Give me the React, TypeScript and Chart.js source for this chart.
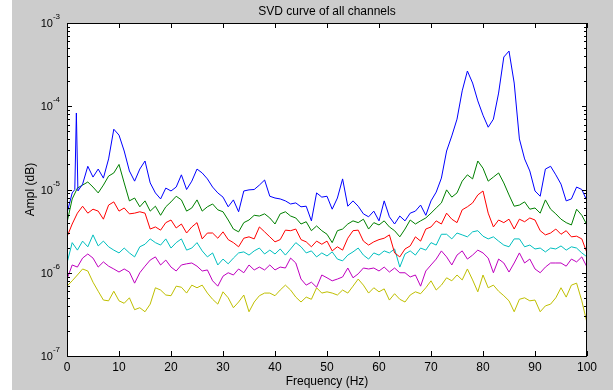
import { useEffect, useRef } from "react";
import { Chart, registerables } from "chart.js";

Chart.register(...registerables);

// Frequency grid (Hz), 1 Hz spacing
const FREQ: number[] = Array.from({ length: 101 }, (_, i) => i);

// The first channel resolves the narrow line near 1.8 Hz with extra samples
const BLUE_FREQ: number[] = [0, 1, 1.5, 1.8, 2.1, ...FREQ.slice(3)];

const BLUE: number[] = [
  5.2e-6, 9.1e-6, 1.0e-5, 8.3e-5, 9.6e-6,
  1.16e-5, 1.9e-5, 1.41e-5, 1.76e-5, 1.37e-5, 2.33e-5, 5.3e-5, 4.5e-5, 2.9e-5, 1.67e-5,
  1.26e-5, 1.76e-5, 2.2e-5, 1.2e-5, 9.1e-6, 7.7e-6, 1.04e-5, 9.6e-6, 1.07e-5, 1.5e-5,
  1.0e-5, 1.26e-5, 1.76e-5, 1.58e-5, 1.34e-5, 1.07e-5, 9.1e-6, 8.1e-6, 6.2e-6, 7.5e-6,
  5.4e-6, 9.6e-6, 9.9e-6, 1.0e-5, 1.13e-5, 1.3e-5, 8.3e-6, 7.9e-6, 7.7e-6, 7.3e-6,
  6.7e-6, 6.9e-6, 6.2e-6, 6.3e-6, 4.2e-6, 9.1e-6, 8.1e-6, 8.3e-6, 5.8e-6, 7.9e-6,
  1.34e-5, 6.3e-6, 7.3e-6, 6.3e-6, 5.1e-6, 4.7e-6, 5.5e-6, 4.2e-6, 7.3e-6, 4.7e-6,
  3.85e-6, 4.8e-6, 4.2e-6, 5.2e-6, 5.5e-6, 6.5e-6, 4.9e-6, 7.3e-6, 9.3e-6, 1.37e-5,
  2.9e-5, 4.4e-5, 7.0e-5, 1.53e-4, 2.65e-4, 1.9e-4, 1.16e-4, 7.8e-5, 5.6e-5, 7.0e-5,
  1.44e-4, 3.9e-4, 4.6e-4, 1.9e-4, 4.05e-5, 2.33e-5, 1.67e-5, 9.6e-6, 8.3e-6, 1.76e-5,
  1.9e-5, 1.5e-5, 1.16e-5, 7.3e-6, 7.7e-6, 1.07e-5, 1.0e-5, 7.3e-6,
];

const GREEN: number[] = [
  4.0e-6, 7.7e-6, 1.04e-5, 1.13e-5, 1.23e-5, 1.07e-5, 9.1e-6, 1.13e-5, 1.45e-5, 1.58e-5,
  2.0e-5, 1.2e-5, 7.3e-6, 7.9e-6, 6.2e-6, 7.3e-6, 5.5e-6, 6.3e-6, 4.9e-6, 6.2e-6,
  7.1e-6, 8.3e-6, 7.5e-6, 5.5e-6, 6.0e-6, 7.5e-6, 5.5e-6, 6.2e-6, 6.7e-6, 5.7e-6,
  5.4e-6, 4.3e-6, 3.35e-6, 3.1e-6, 4.0e-6, 4.3e-6, 4.9e-6, 4.8e-6, 5.1e-6, 4.55e-6,
  3.85e-6, 5.1e-6, 5.4e-6, 4.8e-6, 4.55e-6, 3.85e-6, 4.1e-6, 3.2e-6, 3.65e-6, 3.2e-6,
  2.9e-6, 2.3e-6, 3.2e-6, 3.35e-6, 3.85e-6, 4.2e-6, 4.0e-6, 4.4e-6, 3.35e-6, 4.0e-6,
  3.75e-6, 4.2e-6, 3.55e-6, 3.2e-6, 2.7e-6, 3.35e-6, 4.3e-6, 3.85e-6, 4.2e-6, 4.55e-6,
  5.2e-6, 6.0e-6, 6.9e-6, 9.9e-6, 8.1e-6, 9.1e-6, 1.26e-5, 1.5e-5, 1.34e-5, 2.2e-5,
  1.8e-5, 1.26e-5, 1.41e-5, 1.58e-5, 1.2e-5, 8.6e-6, 6.3e-6, 6.5e-6, 7.1e-6, 5.8e-6,
  6.0e-6, 5.2e-6, 7.5e-6, 5.8e-6, 5.1e-6, 4.4e-6, 4.0e-6, 3.75e-6, 5.8e-6, 4.9e-6,
  3.75e-6,
];

const RED: number[] = [
  2.7e-6, 3.85e-6, 5.2e-6, 6.3e-6, 5.2e-6, 5.8e-6, 5.5e-6, 4.4e-6, 6.5e-6, 7.1e-6,
  5.5e-6, 6.0e-6, 5.1e-6, 5.2e-6, 5.4e-6, 5.2e-6, 3.35e-6, 3.55e-6, 3.25e-6, 4.0e-6,
  4.3e-6, 3.45e-6, 3.85e-6, 3.0e-6, 3.55e-6, 4.0e-6, 2.55e-6, 3.0e-6, 3.0e-6, 2.6e-6,
  3.1e-6, 2.5e-6, 2.3e-6, 2.05e-6, 2.6e-6, 2.7e-6, 2.55e-6, 3.55e-6, 3.1e-6, 2.7e-6,
  2.35e-6, 2.5e-6, 3.25e-6, 3.2e-6, 3.35e-6, 2.5e-6, 2.35e-6, 2.05e-6, 2.4e-6, 2.2e-6,
  2.4e-6, 1.83e-6, 2.05e-6, 1.87e-6, 2.6e-6, 3.2e-6, 3.25e-6, 2.4e-6, 2.15e-6, 2.35e-6,
  2.5e-6, 2.6e-6, 2.85e-6, 1.73e-6, 1.55e-6, 1.93e-6, 2.1e-6, 2.7e-6, 2.4e-6, 3.35e-6,
  3.55e-6, 4.2e-6, 3.85e-6, 5.2e-6, 4.4e-6, 4.0e-6, 5.7e-6, 6.2e-6, 6.9e-6, 8.6e-6,
  9.6e-6, 5.2e-6, 3.55e-6, 4.3e-6, 4.0e-6, 4.4e-6, 3.35e-6, 4.4e-6, 4.1e-6, 4.55e-6,
  4.3e-6, 3.2e-6, 2.85e-6, 3.0e-6, 3.35e-6, 2.9e-6, 3.2e-6, 2.7e-6, 2.75e-6, 2.55e-6,
  1.73e-6,
];

const CYAN: number[] = [
  1.31e-6, 2.3e-6, 1.87e-6, 2.4e-6, 2.05e-6, 2.85e-6, 2.1e-6, 2.4e-6, 2.05e-6, 1.87e-6,
  1.73e-6, 1.98e-6, 1.73e-6, 1.55e-6, 2.05e-6, 2.2e-6, 2.55e-6, 2.3e-6, 2.15e-6, 2.55e-6,
  1.98e-6, 2.3e-6, 2.55e-6, 1.87e-6, 1.98e-6, 2.3e-6, 1.83e-6, 1.55e-6, 1.73e-6, 1.24e-6,
  1.46e-6, 1.28e-6, 1.5e-6, 1.73e-6, 1.78e-6, 1.63e-6, 1.83e-6, 1.98e-6, 1.68e-6, 1.87e-6,
  1.68e-6, 1.93e-6, 1.63e-6, 1.93e-6, 2.3e-6, 2.05e-6, 1.73e-6, 1.83e-6, 1.55e-6, 1.73e-6,
  1.59e-6, 1.78e-6, 1.46e-6, 1.39e-6, 1.63e-6, 1.78e-6, 1.98e-6, 1.63e-6, 1.46e-6, 1.73e-6,
  1.63e-6, 1.83e-6, 1.73e-6, 1.93e-6, 1.17e-6, 1.68e-6, 1.83e-6, 1.63e-6, 1.98e-6, 1.87e-6,
  2.3e-6, 2.15e-6, 2.9e-6, 2.9e-6, 2.55e-6, 3.0e-6, 2.85e-6, 2.7e-6, 3.1e-6, 3.2e-6,
  2.75e-6, 2.55e-6, 2.7e-6, 2.4e-6, 2.15e-6, 2.05e-6, 2.55e-6, 2.55e-6, 2.05e-6, 2.15e-6,
  1.93e-6, 1.98e-6, 1.78e-6, 1.98e-6, 1.93e-6, 2.1e-6, 1.87e-6, 2.05e-6, 1.98e-6, 1.73e-6,
  1.55e-6,
];

const MAGENTA: number[] = [
  8.4e-7, 1.24e-6, 1.17e-6, 1.5e-6, 1.68e-6, 1.5e-6, 1.17e-6, 1.35e-6, 1.2e-6, 1.11e-6,
  1.02e-6, 1.11e-6, 1.02e-6, 7.5e-7, 1.0e-6, 1.2e-6, 1.42e-6, 1.55e-6, 1.24e-6, 1.42e-6,
  1.17e-6, 1.05e-6, 1.24e-6, 1.28e-6, 1.31e-6, 1.2e-6, 1.05e-6, 1.08e-6, 8.0e-7, 6.9e-7,
  9.1e-7, 1.0e-6, 9.4e-7, 1.11e-6, 1.0e-6, 1.24e-6, 1.08e-6, 1.17e-6, 1.08e-6, 1.24e-6,
  1.08e-6, 1.17e-6, 1.14e-6, 1.5e-6, 1.31e-6, 8.4e-7, 7.1e-7, 7.7e-7, 6.7e-7, 9.4e-7,
  8.7e-7, 8.0e-7, 8.4e-7, 8.9e-7, 1.14e-6, 8.7e-7, 9.7e-7, 1.14e-6, 1.11e-6, 1.14e-6,
  1.05e-6, 1.17e-6, 1.02e-6, 1.14e-6, 1.0e-6, 1.0e-6, 8.9e-7, 9.4e-7, 6.9e-7, 1.05e-6,
  1.24e-6, 1.46e-6, 1.83e-6, 1.55e-6, 1.24e-6, 1.63e-6, 1.83e-6, 1.46e-6, 1.63e-6, 1.87e-6,
  1.73e-6, 1.5e-6, 1.0e-6, 1.46e-6, 1.31e-6, 1.02e-6, 1.31e-6, 1.73e-6, 1.31e-6, 1.46e-6,
  1.11e-6, 1.0e-6, 1.17e-6, 1.31e-6, 1.31e-6, 1.31e-6, 1.2e-6, 1.46e-6, 1.35e-6, 1.55e-6,
  1.17e-6,
];

const YELLOW: number[] = [
  6.9e-7, 8.0e-7, 9.4e-7, 1.11e-6, 1.05e-6, 7.7e-7, 6.0e-7, 4.7e-7, 4.6e-7, 6.0e-7,
  4.6e-7, 4.3e-7, 5.0e-7, 3.6e-7, 3.8e-7, 3.4e-7, 4.2e-7, 6.6e-7, 6.2e-7, 5.4e-7,
  5.3e-7, 6.9e-7, 6.7e-7, 5.7e-7, 7.1e-7, 6.6e-7, 7.1e-7, 5.7e-7, 4.8e-7, 4.2e-7,
  5.9e-7, 5.0e-7, 3.8e-7, 4.45e-7, 5.4e-7, 3.4e-7, 4.45e-7, 5.3e-7, 5.7e-7, 5.7e-7,
  5.3e-7, 6.2e-7, 7.1e-7, 6.2e-7, 5.1e-7, 4.45e-7, 5.1e-7, 4.8e-7, 6.6e-7, 5.7e-7,
  5.9e-7, 5.7e-7, 5.4e-7, 6.2e-7, 5.7e-7, 6.9e-7, 8.4e-7, 7.1e-7, 5.7e-7, 6.6e-7,
  5.9e-7, 6.4e-7, 4.7e-7, 5.6e-7, 4.8e-7, 4.45e-7, 5.4e-7, 5.9e-7, 5.6e-7, 6.6e-7,
  8.0e-7, 6.2e-7, 7.1e-7, 8.7e-7, 8.0e-7, 9.4e-7, 8.2e-7, 1.11e-6, 8.2e-7, 5.9e-7,
  9.4e-7, 6.6e-7, 7.1e-7, 6.0e-7, 5.3e-7, 4.6e-7, 3.4e-7, 4.8e-7, 5.0e-7, 4.6e-7,
  4.7e-7, 3.4e-7, 4.0e-7, 4.2e-7, 5.0e-7, 6.6e-7, 5.1e-7, 7.1e-7, 7.5e-7, 4.6e-7,
  2.5e-7,
];

// Axis ticks
const X_TICKS: number[] = [0, 10, 20, 30, 40, 50, 60, 70, 80, 90, 100];
const Y_EXPONENTS: number[] = [-7, -6, -5, -4, -3];

const TITLE = "SVD curve of all channels";
const X_TITLE = "Frequency (Hz)";
const Y_TITLE = "Ampl (dB)";

const FONT = '"Liberation Sans", Arial, Helvetica, sans-serif';

const series = [
  { freq: BLUE_FREQ, values: BLUE, color: "#0000ff" },
  { freq: FREQ, values: GREEN, color: "#008000" },
  { freq: FREQ, values: RED, color: "#ff0000" },
  { freq: FREQ, values: CYAN, color: "#00bfbf" },
  { freq: FREQ, values: MAGENTA, color: "#bf00bf" },
  { freq: FREQ, values: YELLOW, color: "#bfbf00" },
];

// Figure background, white axes box, inward ticks, labels and titles
const axesFrame = {
  id: "axesFrame",
  beforeDraw(chart: any) {
    const { ctx, chartArea: a, width, height } = chart;
    ctx.save();
    ctx.fillStyle = "#cccccc";
    ctx.fillRect(12, 0, width - 12, height);
    ctx.fillStyle = "#ffffff";
    ctx.fillRect(a.left, a.top, a.right - a.left, a.bottom - a.top);
    ctx.restore();
  },
  afterDraw(chart: any) {
    const { ctx, chartArea: a, scales } = chart;
    const xs = scales.x;
    const ys = scales.y;
    ctx.save();
    ctx.strokeStyle = "#000000";
    ctx.lineWidth = 1;
    ctx.strokeRect(a.left + 0.5, a.top + 0.5, a.right - a.left - 1, a.bottom - a.top);

    ctx.beginPath();
    for (const t of X_TICKS) {
      const px = Math.round(xs.getPixelForValue(t)) + 0.5;
      ctx.moveTo(px, a.bottom);
      ctx.lineTo(px, a.bottom - 5);
      ctx.moveTo(px, a.top);
      ctx.lineTo(px, a.top + 5);
    }
    for (const e of Y_EXPONENTS) {
      const py = Math.round(ys.getPixelForValue(Math.pow(10, e))) + 0.5;
      ctx.moveTo(a.left, py);
      ctx.lineTo(a.left + 5, py);
      ctx.moveTo(a.right, py);
      ctx.lineTo(a.right - 5, py);
      if (e < -3) {
        for (let k = 2; k <= 9; k++) {
          const my = Math.round(ys.getPixelForValue(k * Math.pow(10, e))) + 0.5;
          ctx.moveTo(a.left, my);
          ctx.lineTo(a.left + 3, my);
          ctx.moveTo(a.right, my);
          ctx.lineTo(a.right - 3, my);
        }
      }
    }
    ctx.stroke();

    ctx.fillStyle = "#000000";
    ctx.textAlign = "center";
    ctx.textBaseline = "middle";
    ctx.font = `12px ${FONT}`;
    for (const t of X_TICKS) {
      ctx.fillText(String(t), xs.getPixelForValue(t), a.bottom + 12);
    }
    ctx.fillText(X_TITLE, (a.left + a.right) / 2, a.bottom + 26);
    ctx.fillText(TITLE, (a.left + a.right) / 2, 12);

    ctx.save();
    ctx.translate(31, (a.top + a.bottom) / 2);
    ctx.rotate(-Math.PI / 2);
    ctx.fillText(Y_TITLE, 0, 0);
    ctx.restore();

    ctx.textAlign = "right";
    for (const e of Y_EXPONENTS) {
      const py = ys.getPixelForValue(Math.pow(10, e));
      const expText = String(e);
      ctx.font = `8px ${FONT}`;
      const ew = ctx.measureText(expText).width;
      ctx.fillText(expText, a.left - 7, py - 6);
      ctx.font = `11px ${FONT}`;
      ctx.fillText("10", a.left - 7 - ew, py + 1);
    }
    ctx.restore();
  },
};

export default function App() {
  const canvasRef = useRef<HTMLCanvasElement | null>(null);

  useEffect(() => {
    const canvas = canvasRef.current;
    if (!canvas) return;
    const chart = new Chart(canvas, {
      type: "line",
      data: {
        datasets: series.map((s) => ({
          data: s.freq.map((f, i) => ({ x: f, y: s.values[i] })),
          borderColor: s.color,
          backgroundColor: s.color,
          borderWidth: 1,
          pointRadius: 0,
          tension: 0,
          fill: false,
        })),
      },
      options: {
        animation: false,
        responsive: false,
        devicePixelRatio: 1,
        events: [],
        layout: { padding: { top: 23, right: 26, left: 0, bottom: 0 } },
        plugins: {
          legend: { display: false },
          tooltip: { enabled: false },
          title: { display: false },
        },
        scales: {
          x: {
            type: "linear",
            min: 0,
            max: 100,
            grid: { display: false, drawTicks: false },
            border: { display: false },
            ticks: { display: false },
            afterFit: (s: any) => {
              s.height = 34;
            },
          },
          y: {
            type: "logarithmic",
            min: 1e-7,
            max: 1e-3,
            grid: { display: false, drawTicks: false },
            border: { display: false },
            ticks: { display: false },
            afterFit: (s: any) => {
              s.width = 67;
            },
          },
        },
      },
      plugins: [axesFrame],
    } as any);
    return () => chart.destroy();
  }, []);

  return (
    <div style={{ position: "fixed", left: 0, top: 0, width: 613, height: 390 }}>
      <canvas ref={canvasRef} width={613} height={390} style={{ display: "block" }} />
    </div>
  );
}
